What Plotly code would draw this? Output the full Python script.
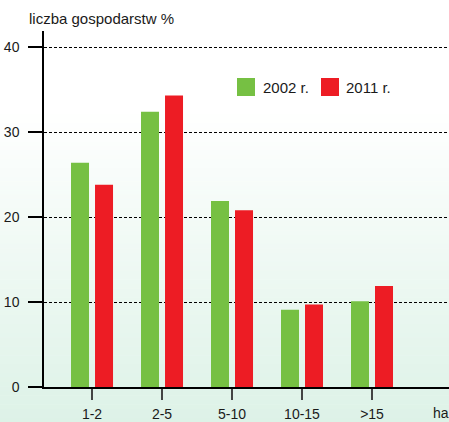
import plotly.graph_objects as go

categories = ["1-2", "2-5", "5-10", "10-15", ">15"]
series_names = ["2002 r.", "2011 r."]
values_2002 = [26.4, 32.4, 21.9, 9.1, 10.1]
values_2011 = [23.8, 34.3, 20.8, 9.7, 11.9]
y_ticks = [0, 10, 20, 30, 40]
y_title = "liczba gospodarstw %"
x_unit = "ha"

GREEN = "#76C043"
RED = "#ED1C24"
TXT = "#1a1a1a"

W, H = 449, 422
ML, MR, MT, MB = 44, 0, 31, 35
PW, PH = W - ML - MR, H - MT - MB

def px_x(p):
    return (p - ML) / PW

def px_y(p):
    return (H - MB - p) / PH

fig = go.Figure()
fig.add_trace(go.Bar(x=categories, y=values_2002, name=series_names[0],
                     marker=dict(color=GREEN, line=dict(width=0))))
fig.add_trace(go.Bar(x=categories, y=values_2011, name=series_names[1],
                     marker=dict(color=RED, line=dict(width=0))))

shapes = []
# background gradient (white top -> pale green bottom)
n = 70
top_c = (255, 255, 255)
bot_c = (221, 242, 231)
start = 110
for i in range(n):
    p0 = start + (H - start) * i / n
    p1 = start + (H - start) * (i + 1) / n + 0.5
    t = (i + 0.5) / n
    c = tuple(round(top_c[k] + (bot_c[k] - top_c[k]) * t) for k in range(3))
    shapes.append(dict(type="rect", xref="paper", yref="paper",
                       x0=px_x(-1), x1=px_x(W + 1), y0=px_y(p1), y1=px_y(p0),
                       fillcolor="rgb(%d,%d,%d)" % c, line=dict(width=0),
                       layer="below"))

# manual legend
shapes.append(dict(type="rect", xref="paper", yref="paper",
                   x0=px_x(237), x1=px_x(255), y0=px_y(96), y1=px_y(78),
                   fillcolor=GREEN, line=dict(width=0)))
shapes.append(dict(type="rect", xref="paper", yref="paper",
                   x0=px_x(321), x1=px_x(339), y0=px_y(96), y1=px_y(78),
                   fillcolor=RED, line=dict(width=0)))

annotations = [
    dict(text=y_title, xref="paper", yref="paper", x=px_x(27), y=px_y(18),
         xanchor="left", yanchor="middle", showarrow=False,
         font=dict(size=15, color=TXT)),
    dict(text=x_unit, xref="paper", yref="paper", x=px_x(441), y=px_y(413),
         xanchor="center", yanchor="middle", showarrow=False,
         font=dict(size=14, color=TXT)),
    dict(text=series_names[0], xref="paper", yref="paper", x=px_x(261), y=px_y(87),
         xanchor="left", yanchor="middle", showarrow=False,
         font=dict(size=15, color=TXT)),
    dict(text=series_names[1], xref="paper", yref="paper", x=px_x(344), y=px_y(87),
         xanchor="left", yanchor="middle", showarrow=False,
         font=dict(size=15, color=TXT)),
]

fig.update_layout(
    width=W, height=H,
    margin=dict(l=ML, r=MR, t=MT, b=MB, pad=0, autoexpand=False),
    paper_bgcolor="white",
    plot_bgcolor="rgba(0,0,0,0)",
    barmode="group", bargap=0.314, bargroupgap=0.25,
    showlegend=False,
    font=dict(family="Liberation Sans, Arial, sans-serif", size=14, color=TXT),
    shapes=shapes,
    annotations=annotations,
    xaxis=dict(range=[-0.686, 5.1], showgrid=False, zeroline=False,
               showline=True, linecolor="black", linewidth=1.5,
               ticks="outside", ticklen=11, tickwidth=2, tickcolor="#444",
               ticklabelstandoff=2, tickfont=dict(size=14), automargin=False),
    yaxis=dict(range=[0, 41.9], tickvals=y_ticks, showgrid=True,
               gridcolor="black", gridwidth=1, griddash="3px,2px",
               zeroline=False, showline=True, linecolor="black", linewidth=1.5,
               ticks="outside", ticklen=14, tickwidth=1.5, tickcolor="black",
               ticklabelstandoff=6, tickfont=dict(size=14), automargin=False),
)

fig.write_html("out.html", config={"displayModeBar": False},
               post_script="document.body.style.margin='0';document.body.style.overflow='hidden';")
